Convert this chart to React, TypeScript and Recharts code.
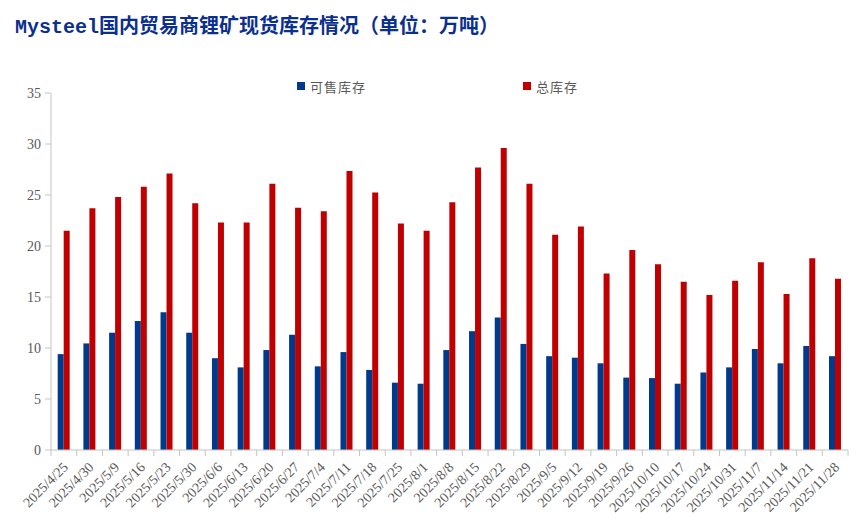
import React from 'react';
import { BarChart, Bar, XAxis, YAxis } from 'recharts';

const categories = [
  '2025/4/25', '2025/4/30', '2025/5/9', '2025/5/16', '2025/5/23', '2025/5/30',
  '2025/6/6', '2025/6/13', '2025/6/20', '2025/6/27', '2025/7/4', '2025/7/11',
  '2025/7/18', '2025/7/25', '2025/8/1', '2025/8/8', '2025/8/15', '2025/8/22',
  '2025/8/29', '2025/9/5', '2025/9/12', '2025/9/19', '2025/9/26', '2025/10/10',
  '2025/10/17', '2025/10/24', '2025/10/31', '2025/11/7', '2025/11/14',
  '2025/11/21', '2025/11/28',
];

// 可售库存
const saleable = [
  9.4, 10.45, 11.5, 12.65, 13.5, 11.5, 9.0, 8.1, 9.8, 11.3, 8.2, 9.6,
  7.85, 6.6, 6.5, 9.8, 11.65, 13.0, 10.4, 9.2, 9.05, 8.5, 7.1, 7.05,
  6.5, 7.6, 8.1, 9.9, 8.5, 10.2, 9.2,
];

// 总库存
const total = [
  21.5, 23.7, 24.8, 25.8, 27.1, 24.2, 22.3, 22.3, 26.1, 23.75, 23.4, 27.35,
  25.25, 22.2, 21.5, 24.3, 27.7, 29.6, 26.1, 21.1, 21.9, 17.3, 19.6, 18.2,
  16.5, 15.2, 16.6, 18.4, 15.3, 18.8, 16.8,
];

const yTicks = [0, 5, 10, 15, 20, 25, 30, 35];

const data = categories.map((date, i) => ({ date, saleable: saleable[i], total: total[i] }));

const BLUE = '#003a8c';
const RED = '#c00000';
const AXIS = '#c4c4c4';
const TEXT = '#595959';
const SERIF = '"Liberation Serif", "DejaVu Serif", serif';

const W = 865;
const H = 532;
const M = { top: 93, right: 17, left: 0, bottom: 0 };
const Y_W = 51;
const BAND = (W - M.right - Y_W) / categories.length;

const DateTick = (props: any) => {
  const { x, y, payload, index } = props;
  const tx = x + 5;
  const ty = y + 18;
  return (
    <g>
      <line x1={x - BAND / 2} y1={y} x2={x - BAND / 2} y2={y + 6} stroke={AXIS} />
      {index === categories.length - 1 && (
        <line x1={x + BAND / 2} y1={y} x2={x + BAND / 2} y2={y + 6} stroke={AXIS} />
      )}
      <text
        x={tx}
        y={ty}
        textAnchor="end"
        fill={TEXT}
        fontSize={14}
        fontFamily={SERIF}
        transform={`rotate(-45, ${tx}, ${ty})`}
      >
        {payload.value}
      </text>
    </g>
  );
};

const LegendBox = () => (
  <div style={{ position: 'absolute', left: 0, top: 76, width: W, height: 20, pointerEvents: 'none' }}>
    {[
      { label: '可售库存', color: BLUE, x: 297 },
      { label: '总库存', color: RED, x: 523 },
    ].map((it) => (
      <div key={it.label} style={{ position: 'absolute', left: it.x, top: 0, display: 'flex', alignItems: 'center', height: 20 }}>
        <span style={{ display: 'inline-block', width: 8, height: 8, background: it.color, marginRight: 5 }} />
        <span style={{ fontFamily: '"Noto Sans CJK SC", sans-serif', fontSize: 13, color: TEXT, letterSpacing: 1 }}>
          {it.label}
        </span>
      </div>
    ))}
  </div>
);

export default function App() {
  return (
    <div style={{ position: 'absolute', left: 0, top: 0, width: W, height: H, background: '#fff' }}>
      <div
        style={{
          position: 'absolute',
          left: 15,
          top: 12,
          fontWeight: 'bold',
          fontSize: 20,
          color: '#0b2f8f',
          fontFamily: '"Noto Sans CJK SC", sans-serif',
          lineHeight: '26px',
          whiteSpace: 'nowrap',
        }}
      >
        <span style={{ fontFamily: '"Liberation Mono", "DejaVu Sans Mono", monospace' }}>Mysteel</span>
        国内贸易商锂矿现货库存情况（单位：万吨）
      </div>
      <LegendBox />
      <BarChart width={W} height={H} data={data} margin={M} barCategoryGap="26%" barGap={0}>
        <XAxis
          dataKey="date"
          interval={0}
          height={82}
          tickLine={false}
          tickSize={0}
          tickMargin={0}
          axisLine={{ stroke: AXIS }}
          tick={<DateTick />}
        />
        <YAxis
          width={Y_W}
          domain={[0, 35]}
          ticks={yTicks}
          allowDataOverflow
          axisLine={{ stroke: AXIS }}
          tickLine={{ stroke: AXIS }}
          tickSize={6}
          tickMargin={4}
          tick={{ fill: TEXT, fontSize: 14, fontFamily: SERIF }}
        />
        <Bar dataKey="saleable" name="可售库存" fill={BLUE} isAnimationActive={false} />
        <Bar dataKey="total" name="总库存" fill={RED} isAnimationActive={false} />
      </BarChart>
    </div>
  );
}
